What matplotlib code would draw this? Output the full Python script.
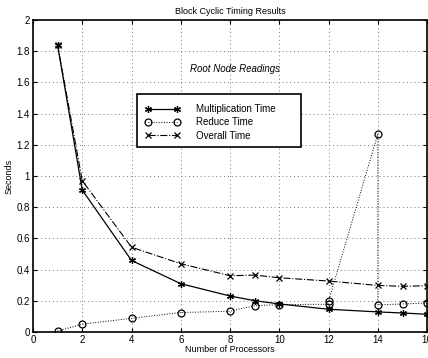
import matplotlib.pyplot as plt
from matplotlib.patches import Rectangle

plt.rcParams['font.family'] = ['Liberation Sans', 'DejaVu Sans']

procs = [1, 2, 4, 6, 8, 9, 10, 12, 14, 15, 16]
mult_time = [1.84, 0.91, 0.458, 0.309, 0.23, 0.20, 0.179, 0.145, 0.128, 0.121, 0.113]
overall_time = [1.84, 0.97, 0.543, 0.437, 0.36, 0.364, 0.347, 0.326, 0.298, 0.292, 0.296]

reduce_procs = [1, 2, 4, 6, 8, 9, 10, 12, 12, 14, 14, 15, 16]
reduce_time = [0.005, 0.049, 0.087, 0.124, 0.132, 0.168, 0.175, 0.177, 0.198, 1.27, 0.173, 0.179, 0.185]

fig = plt.figure(figsize=(4.28, 3.58), dpi=100)
ax = fig.add_axes([0.077, 0.073, 0.921, 0.871])

ax.plot(procs, mult_time, color='black', linestyle='-', linewidth=0.9,
        marker=(6, 2, 0), markersize=5, markeredgewidth=0.9, label='Multiplication Time')
ax.plot(reduce_procs, reduce_time, color='black', linestyle=':', linewidth=0.7,
        marker='o', markersize=5, markerfacecolor='none', markeredgewidth=0.9,
        label='Reduce Time')
ax.plot(procs, overall_time, color='black', linestyle='-.', linewidth=0.8,
        marker='x', markersize=4, markeredgewidth=0.9, label='Overall Time')

ax.set_xlim(0, 16)
ax.set_ylim(0, 2)
ax.set_xticks(range(0, 17, 2))
ax.set_yticks([0, 0.2, 0.4, 0.6, 0.8, 1, 1.2, 1.4, 1.6, 1.8, 2])
ax.set_yticklabels(['0', '0.2', '0.4', '0.6', '0.8', '1', '1.2', '1.4', '1.6', '1.8', '2'])
ax.tick_params(direction='in', top=True, right=True, labelsize=7, length=3, pad=2)
ax.grid(True, linestyle=(0, (1, 3)), color='#777777', linewidth=0.7)
for s in ax.spines.values():
    s.set_linewidth(1.2)

ax.set_title('Block Cyclic Timing Results', fontsize=6.5, pad=4)
ax.set_xlabel('Number of Processors', fontsize=6.5, labelpad=0)
ax.set_ylabel('Seconds', fontsize=6.5, labelpad=2)
ax.text(8.2, 1.685, 'Root Node Readings', fontsize=7, style='italic', ha='center', va='center')

# legend box drawn separately (MATLAB style, extra room on the right)
box = Rectangle((0.264, 0.593), 0.416, 0.17, transform=ax.transAxes,
                facecolor='white', edgecolor='black', linewidth=1.2, zorder=4)
ax.add_patch(box)
leg = ax.legend(loc='upper left', bbox_to_anchor=(0.265, 0.756), fontsize=7,
                frameon=False, numpoints=2,
                handlelength=3.6, handletextpad=1.6, borderpad=0.8,
                labelspacing=0.35, borderaxespad=0)
leg.set_zorder(5)

fig.savefig('out.png', dpi=100)
